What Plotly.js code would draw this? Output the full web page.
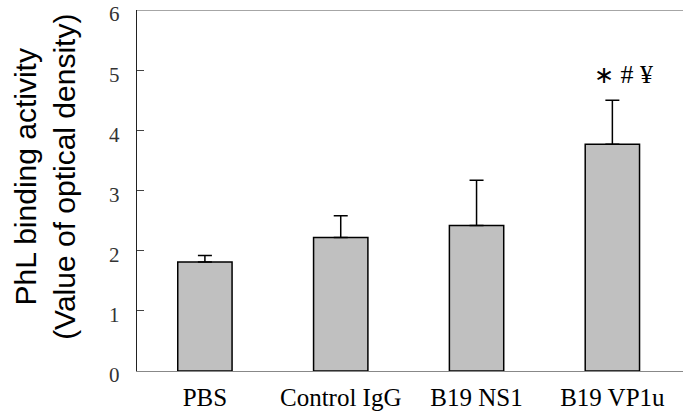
<!DOCTYPE html>
<html>
<head>
<meta charset="utf-8">
<script src="https://cdn.plot.ly/plotly-3.0.1.min.js"></script>
<style>html,body{margin:0;padding:0;background:#fff;}#chart{width:683px;height:417px;}</style>
</head>
<body>
<div id="chart"></div>
<script>
var categories = ["PBS", "Control IgG", "B19 NS1", "B19 VP1u"];
var values = [1.81, 2.22, 2.42, 3.77];
var errors = [0.11, 0.36, 0.75, 0.73];
var yTicks = [0, 1, 2, 3, 4, 5, 6];
var yTitle = "PhL binding activity<br>(Value of optical density)";
var sigLabel = "∗ # ¥";

var trace = {
  type: "bar",
  x: categories,
  y: values,
  width: 0.4,
  marker: {color: "#c0c0c0", line: {color: "#000", width: 1.5}},
  error_y: {type: "data", symmetric: false, array: errors, arrayminus: errors.map(function(){return 0;}), color: "#000", thickness: 1.5, width: 7},
  hoverinfo: "none"
};

var serif = "Liberation Serif, Times New Roman, serif";
var layout = {
  width: 683, height: 417,
  margin: {l: 137, r: 0, t: 10, b: 46},
  paper_bgcolor: "#fff", plot_bgcolor: "#fff",
  showlegend: false,
  xaxis: {
    type: "category",
    showline: true, linecolor: "#888", linewidth: 1.2,
    ticks: "", showgrid: false, zeroline: false,
    ticklabelstandoff: 4,
    tickfont: {family: serif, size: 25, color: "#000"},
    range: [-0.5, 3.52]
  },
  yaxis: {
    range: [0, 6], tickvals: yTicks,
    showline: true, linecolor: "#222", linewidth: 1.2,
    ticks: "inside", ticklen: 7, tickcolor: "#444",
    ticklabelstandoff: 12, ticklabelshift: 4, ticklabeloverflow: "allow",
    showgrid: false, zeroline: false,
    tickfont: {family: serif, size: 21, color: "#333"}
  },
  shapes: [{type: "line", xref: "paper", yref: "y", x0: 0, x1: 1, y0: 6, y1: 6, line: {color: "#888", width: 1.5}}],
  annotations: [{
    x: categories[3], y: 4.93, xref: "x", yref: "y", xshift: 11,
    text: "<span style='font-size:24px'>∗</span> # ¥",
    showarrow: false,
    font: {family: serif, size: 26, color: "#000"}
  }, {
    x: -0.169, y: 0.537, xref: "paper", yref: "paper",
    xanchor: "center", yanchor: "middle",
    text: yTitle, textangle: -90, showarrow: false,
    font: {family: "Liberation Sans, Arial, sans-serif", size: 30, color: "#000"}
  }]
};

Plotly.newPlot("chart", [trace], layout, {staticPlot: true, displayModeBar: false});
</script>
</body>
</html>
